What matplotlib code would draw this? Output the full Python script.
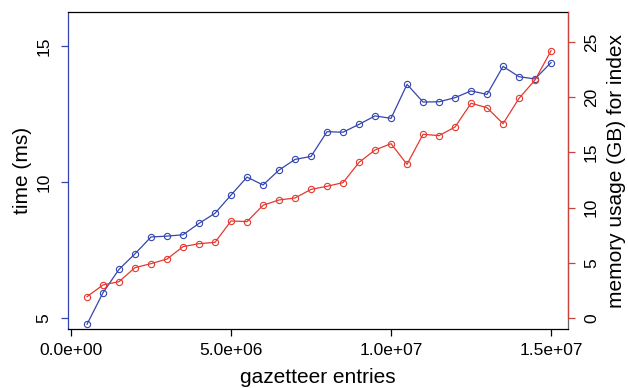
import numpy as np
import matplotlib.pyplot as plt

plt.rcParams['font.family'] = ['Liberation Sans', 'DejaVu Sans']

# data
entries = np.arange(1, 31) * 0.5e6
time_ms = [4.77, 5.93, 6.79, 7.36, 7.98, 8.01, 8.06, 8.48, 8.85, 9.52,
           10.18, 9.89, 10.44, 10.83, 10.94, 11.85, 11.83, 12.12, 12.43, 12.34,
           13.59, 12.94, 12.95, 13.10, 13.35, 13.22, 14.25, 13.87, 13.79, 14.39]
memory_gb = [1.93, 2.99, 3.29, 4.56, 4.92, 5.34, 6.46, 6.73, 6.85, 8.79,
             8.73, 10.21, 10.69, 10.87, 11.65, 11.93, 12.26, 14.10, 15.22, 15.79,
             13.92, 16.64, 16.52, 17.30, 19.45, 19.05, 17.60, 19.90, 21.56, 24.21]
x_ticks = [0, 5e6, 1e7, 1.5e7]
x_ticklabels = ['0.0e+00', '5.0e+06', '1.0e+07', '1.5e+07']
time_ticks = [5, 10, 15]
mem_ticks = [0, 5, 10, 15, 20, 25]

BLUE = '#3446ad'
RED = '#e5382e'

fig = plt.figure(figsize=(6.28, 3.88), dpi=100)
ax1 = fig.add_axes([68/628, 59/388, 500/628, 317/388])
ax2 = ax1.twinx()

# time (left)
ax1.plot(entries, time_ms, c=BLUE, lw=0.9, marker='o', ms=4.5, mfc='none', mew=0.8)
ax1.set_xlim(-0.094e6, 15.53e6)
ax1.set_ylim(4.596, 16.25)
ax1.set_xticks(x_ticks)
ax1.set_xticklabels(x_ticklabels)
ax1.set_yticks(time_ticks)
ax1.tick_params(axis='x', length=5, width=0.9, labelsize=12.5, pad=5)
ax1.tick_params(axis='y', length=5, width=0.9, labelsize=12.5, pad=7,
                color=BLUE, labelrotation=90)
for lb in ax1.get_yticklabels():
    lb.set_va('center')
ax1.set_xlabel('gazetteer entries', fontsize=15, labelpad=7.5)
ax1.set_ylabel('time (ms)', fontsize=15, labelpad=3)
ax1.spines['left'].set_color(BLUE)
ax1.spines['right'].set_color('#666666')
for s in ax1.spines.values():
    s.set_linewidth(0.9)

# memory (right)
ax2.plot(entries, memory_gb, c=RED, lw=0.9, marker='o', ms=4.5, mfc='none', mew=0.8)
ax2.set_ylim(-1.0, 27.72)
ax2.set_yticks(mem_ticks)
ax2.tick_params(axis='y', length=5, width=0.9, labelsize=12.5, pad=6.5,
                color='#c8453d', labelrotation=90)
for lb in ax2.get_yticklabels():
    lb.set_va('center')
ax2.set_ylabel('memory usage (GB) for index', fontsize=15, labelpad=6)
for k in ['left', 'top', 'bottom']:
    ax2.spines[k].set_visible(False)
ax2.spines['right'].set_color('#c8453d')
ax2.spines['right'].set_linewidth(0.9)
ax2.spines['right'].set_bounds(0, 27.72)

fig.savefig('out.png', dpi=100)
